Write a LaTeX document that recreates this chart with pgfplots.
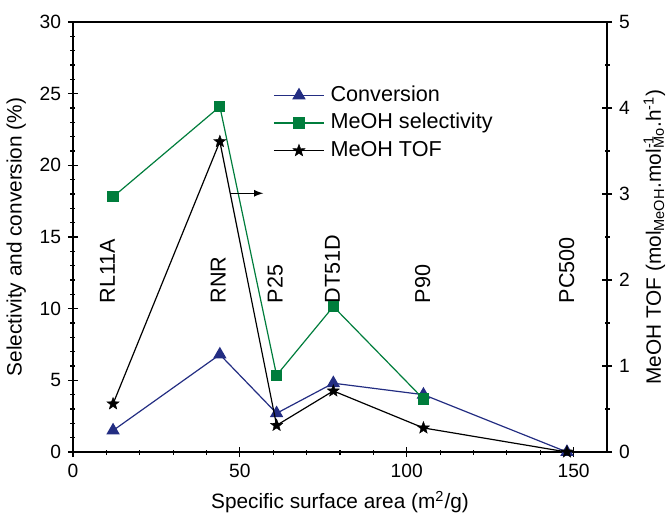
\documentclass[border=0pt]{standalone}
\usepackage{fontspec}
\setmainfont{Liberation Sans}
\usepackage{pgfplots}
\usepackage{pgfplotstable}
\pgfplotsset{compat=1.18}

\definecolor{convblue}{RGB}{35,45,130}
\definecolor{selgreen}{RGB}{0,125,60}

% filled five-pointed star
\pgfdeclareplotmark{fstar}{%
  \pgfpathmoveto{\pgfpointpolar{90}{\pgfplotmarksize}}%
  \pgfpathlineto{\pgfpointpolar{126}{0.42\pgfplotmarksize}}%
  \pgfpathlineto{\pgfpointpolar{162}{\pgfplotmarksize}}%
  \pgfpathlineto{\pgfpointpolar{198}{0.42\pgfplotmarksize}}%
  \pgfpathlineto{\pgfpointpolar{234}{\pgfplotmarksize}}%
  \pgfpathlineto{\pgfpointpolar{270}{0.42\pgfplotmarksize}}%
  \pgfpathlineto{\pgfpointpolar{306}{\pgfplotmarksize}}%
  \pgfpathlineto{\pgfpointpolar{342}{0.42\pgfplotmarksize}}%
  \pgfpathlineto{\pgfpointpolar{18}{\pgfplotmarksize}}%
  \pgfpathlineto{\pgfpointpolar{54}{0.42\pgfplotmarksize}}%
  \pgfpathclose
  \pgfusepathqfillstroke}

\pgfplotstableread{
x    conv
12   1.5
44   6.8
61   2.7
78   4.8
105  4.0
148  0.0
}\convdata

\pgfplotstableread{
x    sel
12   17.8
44   24.1
61   5.35
78   10.15
105  3.7
}\seldata

\pgfplotstableread{
x    tof
12   0.56
44   3.61
61   0.31
78   0.71
105  0.28
148  0.0
}\tofdata

\pgfplotsset{
  common/.style={
    width=267pt, height=215pt, scale only axis,
    xmin=0, xmax=160,
    tick align=center,
    major tick length=5pt, minor tick length=2.5pt,
    axis line style={line width=0.7pt},
    every tick/.style={black, line width=0.6pt},
    tick label style={font=\fontsize{9.6}{11.5}\selectfont},
    label style={font=\fontsize{10.4}{12.5}\selectfont},
    /pgf/number format/assume math mode=true,
  },
  convstyle/.style={convblue, line width=0.6pt, mark=triangle*, mark size=3.3pt,
    mark options={solid, fill=convblue}},
  selstyle/.style={selgreen, line width=0.6pt, mark=square*, mark size=2.5pt,
    mark options={solid, fill=selgreen}},
  tofstyle/.style={black, line width=0.6pt, mark=fstar, mark size=3.2pt,
    mark options={solid, fill=black, line width=0.2pt}},
}

\begin{document}
\begin{tikzpicture}
\useasboundingbox (-36.5pt,-36.5pt) rectangle (297pt,226pt);
\begin{axis}[
    common,
    ymin=0, ymax=30,
    xtick={0,50,100,150}, minor x tick num=4,
    ytick={0,5,...,30}, minor y tick num=4,
    xtick pos=bottom, ytick pos=left,
    xlabel={Specific surface area (m\textsuperscript{2}/g)},
    ylabel={Selectivity and conversion (\%)},
]
\addplot[convstyle] table[x=x, y=conv] {\convdata};
\addplot[selstyle] table[x=x, y=sel] {\seldata};

\foreach \xx/\name in {10.3/RL11A, 43.5/RNR, 60.6/P25, 77.8/DT51D, 104.8/P90, 147.9/PC500} {
  \edef\tmp{\noexpand\node[rotate=90, anchor=west, inner sep=0pt,
    font=\noexpand\fontsize{10.8}{12}\noexpand\selectfont]
    at (axis cs:\xx,10.35) {\name};}
  \tmp
}
\draw[-latex, line width=0.6pt] (axis cs:47,18.05) -- (axis cs:57,18.05);
\end{axis}

\begin{axis}[
    common,
    ymin=0, ymax=5,
    axis y line*=right, axis x line=none,
    ytick={0,1,...,5}, minor y tick num=1,
    ylabel={MeOH TOF (mol\textsubscript{MeOH}.mol\rlap{\textsuperscript{-1}}\textsubscript{Mo}.h\textsuperscript{-1})},
    legend style={at={(0.3745,0.858)}, anchor=north west, draw=none, fill=none,
      inner sep=0pt, row sep=1.8pt, column sep=2pt,
      font=\fontsize{10.8}{13}\selectfont,
      nodes={text height=7.8pt, text depth=2.2pt, inner sep=1pt}},
    legend cell align=left,
    legend image code/.code={%
      \draw[mark repeat=2, mark phase=2] plot coordinates {(0pt,0pt) (12.5pt,0pt) (25pt,0pt)};},
]
\addlegendimage{convstyle}
\addlegendentry{Conversion}
\addlegendimage{selstyle}
\addlegendentry{MeOH selectivity}
\addplot[tofstyle] table[x=x, y=tof] {\tofdata};
\addlegendentry{MeOH TOF}
\end{axis}
\end{tikzpicture}
\end{document}
